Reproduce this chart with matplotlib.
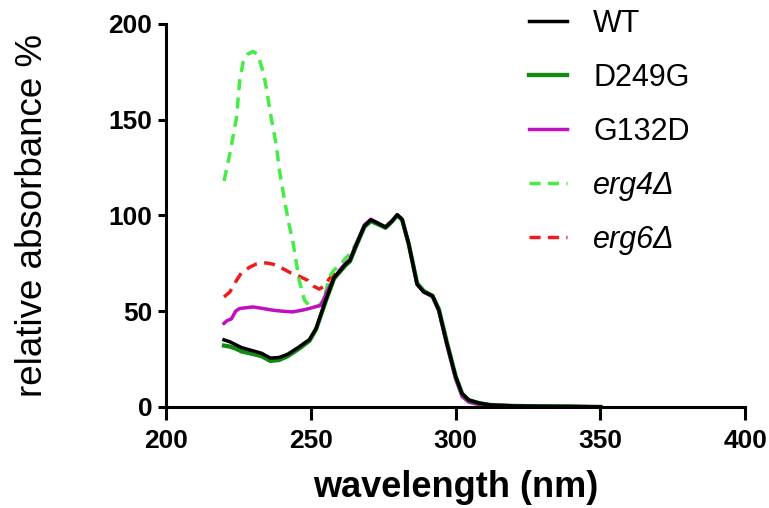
import matplotlib
matplotlib.use("Agg")
import matplotlib.pyplot as plt

# ----------------------------------------------------------------------------
# Data
# ----------------------------------------------------------------------------
wl_tail = [262, 263.5, 265.5, 267.2, 268.5, 270.7, 273, 275.8, 278, 279.8, 281.5,
           283.8, 286.7, 289, 292, 294.2, 297, 300, 302.2, 304.5, 308, 312,
           320, 330, 340, 350]
tail = [74.5, 76.5, 84, 90, 94.5, 97.7, 96, 93.9, 97, 100.3, 98,
        85, 64, 60, 58, 50.5, 33, 15.8, 7, 3.6, 2, 1,
        0.5, 0.3, 0.2, 0]

wl_wt = [220, 222, 224, 226, 229, 233, 236, 239, 242, 246, 249.5, 251.8, 255.2,
         258, 260] + wl_tail
wt = [35, 34, 32.5, 31, 29.7, 28, 25.5, 25.8, 27.5, 31.4, 35.2, 41, 56,
      67.5, 71] + tail

wl_d249g = wl_wt
d249g = [32, 31.5, 30.5, 29, 28, 26.5, 24, 24.5, 26.5, 30.5, 34.5, 40.5, 55.5,
         67, 70.5] + [74, 76, 83.5, 89.5, 94, 97, 95.5, 93.5, 96.8, 100, 97.8,
                      85, 64.5, 60.5, 58, 51, 33.5, 16, 7, 3.5, 2, 1,
                      0.5, 0.3, 0.2, 0]

wl_g132d = [220, 221, 222.6, 224, 225.4, 230, 233, 236.9, 240, 243.7, 247, 249.5,
            252, 253.5, 255.2, 257.5, 260] + wl_tail
g132d = [43.6, 45, 46, 50, 51.4, 52.2, 51.5, 50.5, 50, 49.6, 50.5, 51.4,
         52.5, 53, 59, 66, 71.5] + [75, 77, 84.5, 90.5, 95, 98, 96, 94, 97, 100, 98,
                                     85, 64, 60, 57.5, 50, 32, 14.5, 5.5, 2.5, 1.2, 0.6,
                                     0.3, 0.2, 0.1, 0]

wl_erg4 = [220, 222, 224.3, 225.4, 226.6, 228, 230, 231.7, 233.4, 234.6, 236.3,
           238, 239.2, 240.9, 242.4, 243.7, 246, 247.8, 250, 252.5, 254.5, 256.4,
           258, 260] + wl_tail
erg4 = [118, 132, 151, 170, 180, 184, 185.6, 184, 175.5, 166.8, 151,
        137, 123, 107.8, 95.7, 87, 66, 55.7, 52, 52.5, 56, 68,
        71.5, 74] + [77.6, 80, 85, 90.5, 95, 98, 96.2, 94, 97, 100, 98,
                     85, 64, 60, 58, 50.5, 33, 15.8, 7, 3.6, 2, 1,
                     0.5, 0.3, 0.2, 0]

wl_erg6 = [220, 222, 224.3, 226, 228.9, 231, 234.6, 237, 240.3, 243, 246, 249,
           251, 252.9, 254.5, 256.4, 258, 261] + wl_tail[1:]
erg6 = [57.4, 60, 66, 70, 73, 74.5, 75.2, 74.5, 72.2, 70, 68.2, 66,
        63, 61.5, 63, 67, 69.5, 73] + tail[1:]

x_ticks = [200, 250, 300, 350, 400]
y_ticks = [0, 50, 100, 150, 200]

# ----------------------------------------------------------------------------
# Style
# ----------------------------------------------------------------------------
plt.rcParams['font.family'] = ['Liberation Sans', 'DejaVu Sans']

LW = 2.5

fig = plt.figure(figsize=(7.69, 5.08), dpi=100)
ax = fig.add_axes([0.216, 0.199, 0.753, 0.754])

# dashed knockouts first, solid strains on top
ax.plot(wl_erg6, erg6, color='#ee1c1c', lw=LW, dashes=(3.2, 2.1), label='erg6\u0394')
ax.plot(wl_erg4, erg4, color='#45ec45', lw=LW, dashes=(3.2, 2.1), label='erg4\u0394')
ax.plot(wl_g132d, g132d, color='#c010c0', lw=LW, label='G132D')
ax.plot(wl_d249g, d249g, color='#108a10', lw=LW + 0.6, label='D249G')
ax.plot(wl_wt, wt, color='black', lw=LW, label='WT')

ax.set_xlim(200, 400)
ax.set_ylim(0, 200)
ax.set_xticks(x_ticks)
ax.set_yticks(y_ticks)

for side in ['top', 'right']:
    ax.spines[side].set_visible(False)
for side in ['left', 'bottom']:
    ax.spines[side].set_linewidth(2.2)

ax.tick_params(axis='both', direction='out', width=2.2, labelsize=19)
ax.tick_params(axis='y', length=6, pad=4)
ax.tick_params(axis='x', length=9, pad=7)
for lab in ax.get_xticklabels() + ax.get_yticklabels():
    lab.set_fontweight('bold')

ax.set_xlabel('wavelength (nm)', fontsize=26, fontweight='bold', labelpad=12)
ax.set_ylabel('relative absorbance %', fontsize=26.5, labelpad=42)

# legend in the reference order
handles, labels = ax.get_legend_handles_labels()
order = [4, 3, 2, 1, 0]
leg = ax.legend([handles[i] for i in order], [labels[i] for i in order],
                loc='upper left', bbox_to_anchor=(0.668, 1.012),
                bbox_transform=fig.transFigure,
                frameon=False, fontsize=22, handlelength=1.25, handletextpad=0.85,
                labelspacing=0.78, borderpad=0)
for txt in leg.get_texts()[3:]:
    txt.set_fontstyle('italic')

fig.savefig('out.png', dpi=100)
